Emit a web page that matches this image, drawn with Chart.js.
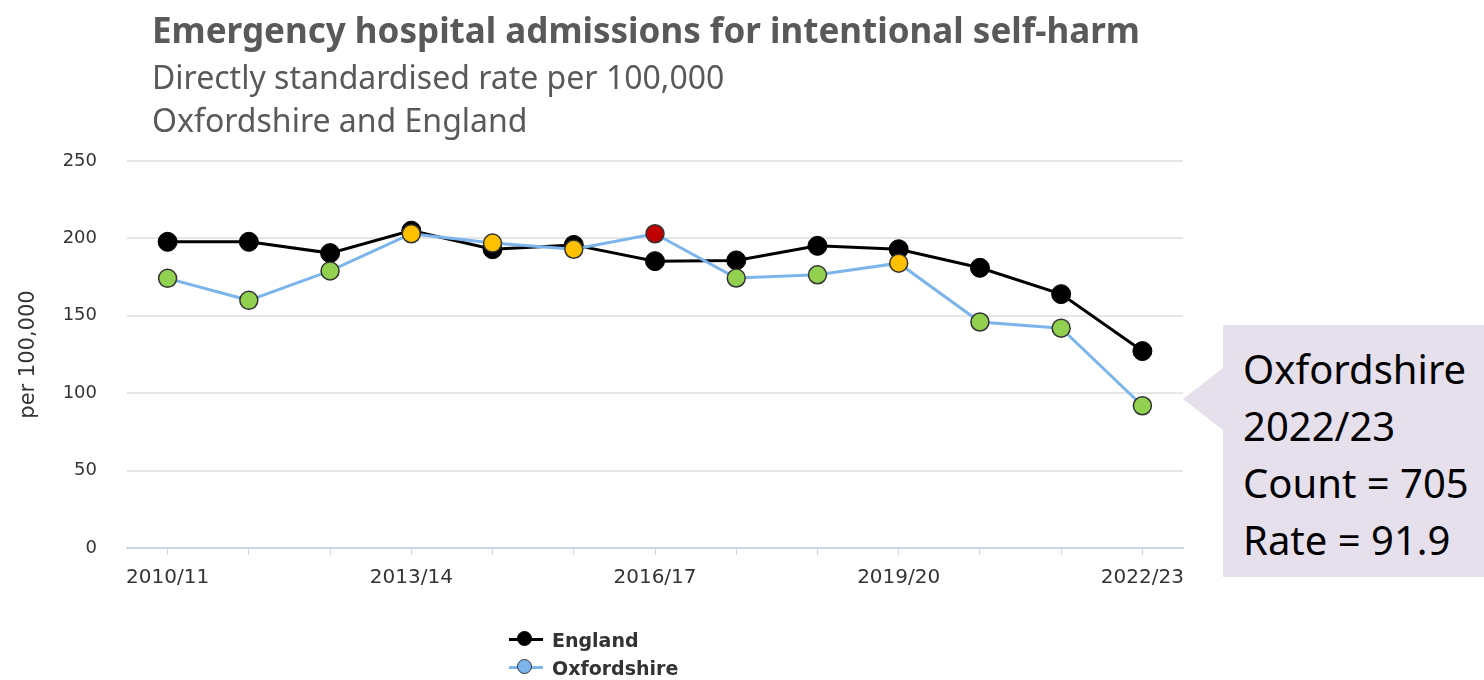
<!DOCTYPE html>
<html>
<head>
<meta charset="utf-8">
<script src="https://cdn.jsdelivr.net/npm/chart.js@4.4.0/dist/chart.umd.min.js"></script>
<style>
  body { margin: 0; background: #fff; }
  #wrap { position: relative; width: 1484px; height: 680px; overflow: hidden; }
  #chart { position: absolute; left: 0; top: 0; }
  .title { position: absolute; left: 152px; top: 6px; font: bold 35px 'Noto Sans', sans-serif; color: #595959; white-space: nowrap; }
  .sub { position: absolute; left: 152px; font: 32px 'Noto Sans', sans-serif; color: #595959; white-space: nowrap; }
  #legend { position: absolute; left: 509px; top: 626px; font: bold 19px 'DejaVu Sans', sans-serif; color: #333; }
  #legend .item { position: relative; height: 28px; line-height: 28px; padding-left: 43px; white-space: nowrap; }
  #legend .ln { position: absolute; left: 0; top: 12px; width: 34px; height: 3px; }
  #legend .dot { position: absolute; left: 8px; top: 5px; width: 15px; height: 15px; border-radius: 50%; box-sizing: border-box; }
  #callout { position: absolute; left: 1223px; top: 325px; width: 261px; height: 252px; background: #e5e0ec;
             box-sizing: border-box; padding: 15px 0 0 20px; font: 40px 'Noto Sans', sans-serif; line-height: 57px; color: #000; }
  #callout::before { content: ''; position: absolute; left: -40px; top: 43px; border-right: 40px solid #e5e0ec;
                     border-top: 31px solid transparent; border-bottom: 31px solid transparent; }
</style>
</head>
<body>
<div id="wrap">
  <canvas id="chart" width="1484" height="680"></canvas>
  <div class="title">Emergency hospital admissions for intentional self-harm</div>
  <div class="sub" style="top:55px">Directly standardised rate per 100,000</div>
  <div class="sub" style="top:98px">Oxfordshire and England</div>
  <div id="legend"></div>
  <div id="callout">Oxfordshire<br>2022/23<br>Count = 705<br>Rate = 91.9</div>
</div>
<script>
// Financial years on the x axis
const years = ['2010/11', '2011/12', '2012/13', '2013/14', '2014/15', '2015/16', '2016/17',
               '2017/18', '2018/19', '2019/20', '2020/21', '2021/22', '2022/23'];
// Only these years get a label under the axis
const labelledYears = ['2010/11', '2013/14', '2016/17', '2019/20', '2022/23'];

// Directly standardised rate per 100,000
const englandRates = [197.8, 197.8, 190.5, 205.0, 193.0, 195.8, 185.3, 185.8, 195.2, 193.0, 181.0, 164.0, 127.2];
const oxfordshireRates = [174.2, 160.0, 179.0, 203.0, 197.0, 193.0, 203.0, 174.4, 176.5, 184.0, 146.0, 142.0, 91.9];

// Oxfordshire compared with England, used to colour the markers
const oxfordshireCompared = ['better', 'better', 'better', 'similar', 'similar', 'similar', 'worse',
                             'better', 'better', 'similar', 'better', 'better', 'better'];
const yTicks = [0, 50, 100, 150, 200, 250];

const compareColours = { better: '#92d050', similar: '#ffc000', worse: '#c00000' };

const datasets = [
    {
        label: 'England',
        data: englandRates,
        borderColor: '#000000',
        borderWidth: 3,
        pointRadius: 9.5,
        pointBackgroundColor: '#000000',
        pointBorderColor: '#000000',
        pointBorderWidth: 1,
        legendDot: '#000000',
        order: 1
    },
    {
        label: 'Oxfordshire',
        data: oxfordshireRates,
        borderColor: '#7cb5ec',
        borderWidth: 3,
        pointRadius: 9,
        pointBackgroundColor: oxfordshireCompared.map(c => compareColours[c]),
        pointBorderColor: '#333333',
        pointBorderWidth: 1.5,
        legendDot: '#7cb5ec',
        order: 0
    }
];

const ctx = document.getElementById('chart').getContext('2d');
new Chart(ctx, {
    type: 'line',
    data: { labels: years, datasets: datasets },
    options: {
        responsive: false,
        animation: false,
        layout: { padding: { top: 161, right: 301, bottom: 72, left: 0 } },
        plugins: {
            legend: { display: false },
            tooltip: { enabled: false }
        },
        scales: {
            x: {
                offset: true,
                border: { display: true, color: '#ccd6eb', width: 2 },
                grid: { offset: false, drawOnChartArea: false, drawTicks: true, tickLength: 7, color: '#ccd6eb' },
                ticks: {
                    autoSkip: false,
                    maxRotation: 0,
                    padding: 11,
                    color: '#333',
                    font: { family: 'DejaVu Sans', size: 20 },
                    callback: function(value, index) {
                        const y = years[index];
                        return labelledYears.includes(y) ? y : '';
                    }
                },
                afterFit: function(scale) { scale.height = 60; }
            },
            y: {
                min: 0,
                max: 250,
                afterBuildTicks: function(scale) { scale.ticks = yTicks.map(v => ({ value: v })); },
                border: { display: false },
                grid: { color: '#e6e6e6', lineWidth: 2, drawTicks: false },
                ticks: {
                    padding: 30,
                    color: '#333',
                    font: { family: 'DejaVu Sans', size: 18 }
                },
                title: {
                    display: true,
                    text: 'per 100,000',
                    color: '#333',
                    font: { family: 'DejaVu Sans', size: 21 },
                    padding: { top: 16, bottom: 0 }
                },
                afterFit: function(scale) { scale.width = 127; }
            }
        }
    }
});

// Legend, England first as in the original
const legend = document.getElementById('legend');
datasets.forEach(ds => {
    const item = document.createElement('div');
    item.className = 'item';
    const ln = document.createElement('i');
    ln.className = 'ln';
    ln.style.background = ds.borderColor;
    const dot = document.createElement('i');
    dot.className = 'dot';
    dot.style.background = ds.legendDot;
    dot.style.border = '1.5px solid ' + ds.pointBorderColor;
    item.appendChild(ln);
    item.appendChild(dot);
    item.appendChild(document.createTextNode(ds.label));
    legend.appendChild(item);
});
</script>
</body>
</html>
